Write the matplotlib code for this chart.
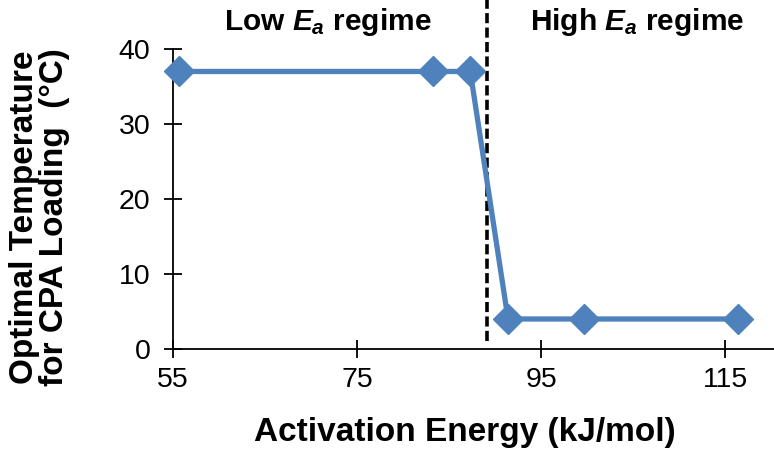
import matplotlib.pyplot as plt

# Data
energy = [55.6, 83.2, 87.3, 91.4, 99.7, 116.4]
opt_temp = [37, 37, 37, 4, 4, 4]
x_ticks = [55, 75, 95, 115]
y_ticks = [0, 10, 20, 30, 40]
boundary = 89.1

plt.rcParams['font.family'] = ['Liberation Sans', 'DejaVu Sans']
plt.rcParams['mathtext.fontset'] = 'custom'
plt.rcParams['mathtext.it'] = 'Liberation Sans:italic:bold'
plt.rcParams['mathtext.rm'] = 'Liberation Sans:bold'

fig = plt.figure(figsize=(7.74, 4.51), dpi=100)
ax = fig.add_axes([0.2235, 0.2262, 0.7765, 0.6652])

ax.plot(energy, opt_temp, color='#4F81BD', linewidth=3.8, marker='D',
        markersize=15, clip_on=False, zorder=3)

# Regime boundary
ax.plot([boundary, boundary], [1, 46.6], color='black', linestyle=(0, (2.8, 1.2)),
        linewidth=2.6, clip_on=False, zorder=2)

ax.set_xlim(55, 120.3)
ax.set_ylim(0, 40)
ax.set_xticks(x_ticks)
ax.set_yticks(y_ticks)
ax.tick_params(direction='inout', length=12.5, width=1.3, labelsize=20.5)
ax.tick_params(axis='x', pad=7)
ax.tick_params(axis='y', pad=10)
for s in ['top', 'right']:
    ax.spines[s].set_visible(False)
for s in ['left', 'bottom']:
    ax.spines[s].set_linewidth(1.3)

ax.set_xlabel('Activation Energy (kJ/mol)', fontsize=24, fontweight='bold')
ax.xaxis.set_label_coords(0.486, -0.228)
ax.set_ylabel('Optimal Temperature\nfor CPA Loading  (\u00b0C)', fontsize=24,
              fontweight='bold', linespacing=0.93)
ax.yaxis.set_label_coords(-0.172, 0.44)

ax.text(71.8, 43.6, 'Low $E_a$ regime', fontsize=21.5, fontweight='bold',
        ha='center', va='center')
ax.text(105.4, 43.6, 'High $E_a$ regime', fontsize=21.5, fontweight='bold',
        ha='center', va='center')

fig.savefig('out.png', dpi=100)
